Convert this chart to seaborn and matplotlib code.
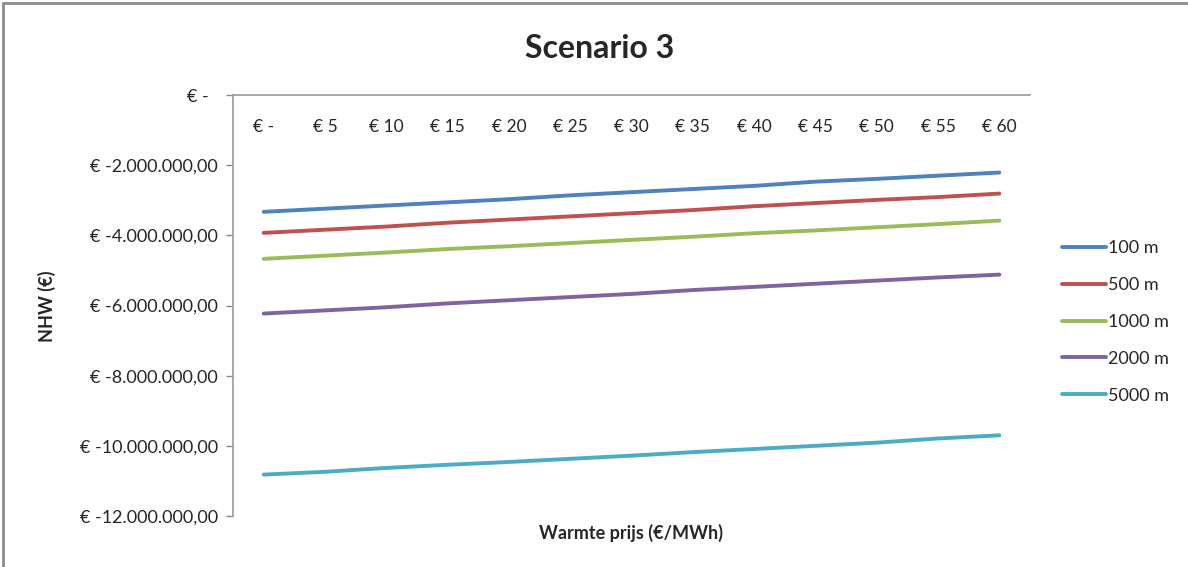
import matplotlib
matplotlib.use("Agg")
import matplotlib.pyplot as plt
from matplotlib.lines import Line2D
import seaborn as sns
import pandas as pd

# Heat price categories (€/MWh)
prices = ["€ -", "€ 5", "€ 10", "€ 15", "€ 20", "€ 25", "€ 30",
          "€ 35", "€ 40", "€ 45", "€ 50", "€ 55", "€ 60"]

series_names = ["100 m", "500 m", "1000 m", "2000 m", "5000 m"]

# NHW values in euro per heat price
nhw_100 = [-3.33e6, -3.24e6, -3.15e6, -3.06e6, -2.97e6, -2.86e6, -2.77e6,
           -2.68e6, -2.59e6, -2.47e6, -2.39e6, -2.30e6, -2.21e6]
nhw_500 = [-3.93e6, -3.84e6, -3.75e6, -3.64e6, -3.55e6, -3.46e6, -3.37e6,
           -3.28e6, -3.17e6, -3.08e6, -2.99e6, -2.91e6, -2.81e6]
nhw_1000 = [-4.67e6, -4.58e6, -4.49e6, -4.39e6, -4.31e6, -4.22e6, -4.13e6,
            -4.04e6, -3.94e6, -3.86e6, -3.77e6, -3.68e6, -3.58e6]
nhw_2000 = [-6.23e6, -6.14e6, -6.05e6, -5.94e6, -5.85e6, -5.76e6, -5.67e6,
            -5.56e6, -5.47e6, -5.38e6, -5.29e6, -5.20e6, -5.12e6]
nhw_5000 = [-10.82e6, -10.74e6, -10.63e6, -10.54e6, -10.46e6, -10.37e6, -10.28e6,
            -10.18e6, -10.09e6, -10.00e6, -9.91e6, -9.79e6, -9.70e6]

y_ticks = [0, -2e6, -4e6, -6e6, -8e6, -10e6, -12e6]
y_tick_labels = ["€ -  ", "€ -2.000.000,00", "€ -4.000.000,00", "€ -6.000.000,00",
                 "€ -8.000.000,00", "€ -10.000.000,00", "€ -12.000.000,00"]

colors = ["#4F81BD", "#C0504D", "#9BBB59", "#8064A2", "#4BACC6"]

all_values = [nhw_100, nhw_500, nhw_1000, nhw_2000, nhw_5000]
rows = []
for name, vals in zip(series_names, all_values):
    for i, v in enumerate(vals):
        rows.append({"idx": i, "NHW": v, "serie": name})
df = pd.DataFrame(rows)

sns.set_style("white")
plt.rcParams["font.family"] = ["Lato", "DejaVu Sans"]

fig = plt.figure(figsize=(11.88, 5.67), dpi=100)
ax = fig.add_axes([233 / 1188, 1 - 516 / 567, (1030 - 233) / 1188, (516 - 95) / 567])

sns.lineplot(data=df, x="idx", y="NHW", hue="serie", palette=colors,
             hue_order=series_names, linewidth=2.8, ax=ax, legend=False)

ax.set_xlim(-0.5, len(prices) - 0.5)
ax.set_ylim(-12e6, 0)

ax.set_yticks(y_ticks)
ax.set_yticklabels(y_tick_labels, fontsize=13)
ax.tick_params(axis="y", direction="out", length=5, width=1, color="#888888",
               pad=6, left=True)

ax.set_xticks(range(len(prices)))
ax.set_xticklabels(prices, fontsize=12.5)
ax.tick_params(axis="x", bottom=False, top=False, labelbottom=False,
               labeltop=True, pad=-32)

for side in ["right", "bottom"]:
    ax.spines[side].set_visible(False)
for side in ["left", "top"]:
    ax.spines[side].set_color("#999999")
    ax.spines[side].set_linewidth(1.2)

ax.set_xlabel("")
ax.set_ylabel("")
fig.text(47 / 1188, 1 - 306 / 567, "NHW (€)", rotation=90, fontsize=13,
         fontweight="bold", ha="center", va="center")
fig.text(631 / 1188, 1 - 533 / 567, "Warmte prijs (€/MWh)", fontsize=13,
         fontweight="bold", ha="center", va="center")
fig.text(600 / 1188, 1 - 48 / 567, "Scenario 3", fontsize=23,
         fontweight="bold", ha="center", va="center")

handles = [Line2D([0], [0], color=c, linewidth=2.8) for c in colors]
fig.legend(handles, series_names, loc="center left",
           bbox_to_anchor=(1046 / 1188, 1 - 322 / 567), frameon=False,
           fontsize=13, handlelength=2.4, handletextpad=0.15,
           labelspacing=1.15)

# outer chart frame (top and left edges)
fig.add_artist(Line2D([3 / 1188, 1], [1 - 3 / 567, 1 - 3 / 567],
                      color="#8c8c8c", linewidth=2, transform=fig.transFigure))
fig.add_artist(Line2D([3 / 1188, 3 / 1188], [0, 1 - 3 / 567],
                      color="#8c8c8c", linewidth=2, transform=fig.transFigure))

fig.savefig("out.png", dpi=100)
